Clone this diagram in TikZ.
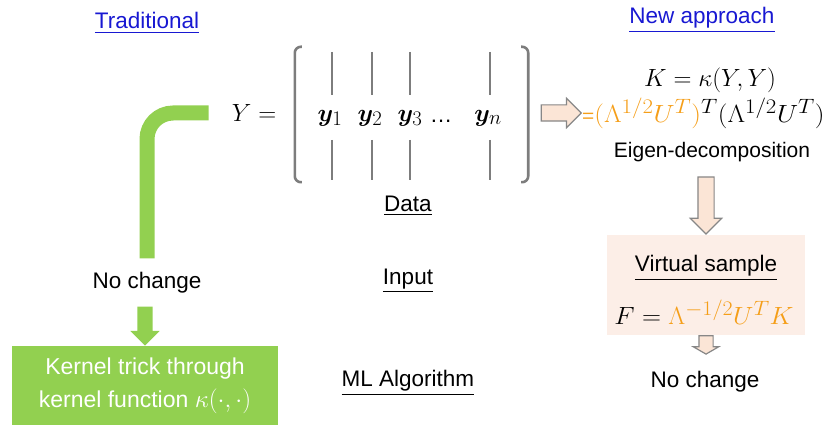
\documentclass[tikz,border=0pt]{standalone}
\usepackage{amsmath,bm}
\usepackage{graphicx}
\usepackage{fontspec}
\setmainfont{Liberation Sans}
\usepackage{xcolor}
\usetikzlibrary{arrows.meta, positioning, calc, shapes.arrows}

\DeclareMathSizes{28}{28}{21}{16}

\definecolor{leafgreen}{RGB}{146,208,80}
\definecolor{peach}{RGB}{251,229,214}
\definecolor{peachbox}{RGB}{252,238,231}
\definecolor{amber}{RGB}{245,158,24}
\definecolor{linkblue}{RGB}{24,24,210}
\definecolor{brackgray}{RGB}{125,125,125}
\definecolor{arrowgray}{RGB}{135,135,135}

\tikzset{
  txt/.style={font=\fontsize{22.5}{27}\selectfont, inner sep=0pt},
  eq/.style={font=\fontsize{28}{33}\selectfont, inner sep=0pt},
  heading/.style={txt, text=linkblue},
  greenpipe/.style={leafgreen, line width=15pt},
  bracket/.style={brackgray, line width=2.6pt, rounded corners=6pt},
  colline/.style={brackgray, line width=1.6pt},
  blockarrow/.style={single arrow, draw=arrowgray, fill=peach, line width=1.2pt,
    inner sep=7.5pt, single arrow head extend=7.5pt, minimum height=#1},
  blockarrow/.default=40pt
}

\begin{document}
\begin{tikzpicture}[x=1pt, y=-1pt]
\useasboundingbox (0,0) rectangle (836,427);

% Headings
\node[heading] (trad) at (147,23) {\underline{Traditional}};
\node[heading] (newapp) at (702,20) {\underline{New approach}};

% Data matrix Y
\node[eq] (Yeq) at (254,113) {$Y=$};
\node[minimum width=233pt, minimum height=135pt, inner sep=0pt] (mat) at (411.5,114.5) {};
\draw[bracket] ([xshift=7pt]mat.north west) -- (mat.north west) -- (mat.south west) -- ([xshift=7pt]mat.south west);
\draw[bracket] ([xshift=-7pt]mat.north east) -- (mat.north east) -- (mat.south east) -- ([xshift=-7pt]mat.south east);
\foreach \x in {332,372,410,490} {
  \draw[colline] (\x,52) -- (\x,95) (\x,140) -- (\x,180);
}
\node[eq] (v1) at (330,118) {$\bm{y}_1$};
\node[eq] (v2) at (370,118) {$\bm{y}_2$};
\node[eq] (v3) at (410,118) {$\bm{y}_3$};
\node[txt] (vdots) at (441,121) {\textellipsis};
\node[eq] (vn) at (488,118) {$\bm{y}_n$};

% Middle labels
\node[txt] (data) at (408,206) {\underline{Data}};
\node[txt] (input) at (408,281) {\underline{Input}};
\node[txt] (mlalg) at (408,383) {\underline{ML Algorithm}};

% Traditional route
\node[txt, inner ysep=14pt] (nochangeL) at (147,283) {No change};
\node[fill=leafgreen, text=white, minimum width=266pt, minimum height=79pt,
  align=center, font=\fontsize{23}{33}\selectfont] (kernel) at (145,385.5)
  {Kernel trick through\\kernel function $\kappa(\cdot,\cdot)$};
\coordinate (pipe) at ($(Yeq.west)+(-23,0)$);
\draw[greenpipe, rounded corners=26pt] (pipe) -| (nochangeL.north);
\node[single arrow, fill=leafgreen, inner sep=7.5pt, single arrow head extend=7pt,
  minimum height=39pt, rotate=-90, anchor=tip] (toKernel) at (kernel.north) {};

% New approach
\node[eq] (Keq) at (710,80) {$K=\kappa(Y,Y)$};
\node[eq, anchor=west] (expr) at (582,113)
  {\scalebox{1.1}[1]{$\textcolor{amber}{\text{\fontsize{19}{22}\selectfont=}(\Lambda^{1/2}U^{T})}^{T}(\Lambda^{1/2}U^{T})$}};
\node[txt, font=\fontsize{21}{25}\selectfont] (eig) at (712,152) {Eigen-decomposition};
\node[fill=peachbox, minimum width=198pt, minimum height=100pt] (vbox) at (706,285) {};
\node[txt] (virt) at (706,268) {\underline{Virtual sample}};
\node[eq] (Feq) at (704,312) {\scalebox{1.06}[1]{$F=\textcolor{amber}{\Lambda^{-1/2}U^{T}K}$}};
\node[txt, inner ysep=14pt] (nochangeR) at (705,382) {No change};

% Block arrows
\node[blockarrow=40pt, single arrow head extend=6.5pt, anchor=tip] (toK) at (expr.west) {};
\node[blockarrow=57pt, rotate=-90, anchor=tip] (toF) at (vbox.north) {};
\node[blockarrow=11pt, rotate=-90, anchor=tail, inner sep=6.5pt,
  single arrow head extend=5.5pt, single arrow tip angle=120] (toOut) at (vbox.south) {};
\end{tikzpicture}
\end{document}
